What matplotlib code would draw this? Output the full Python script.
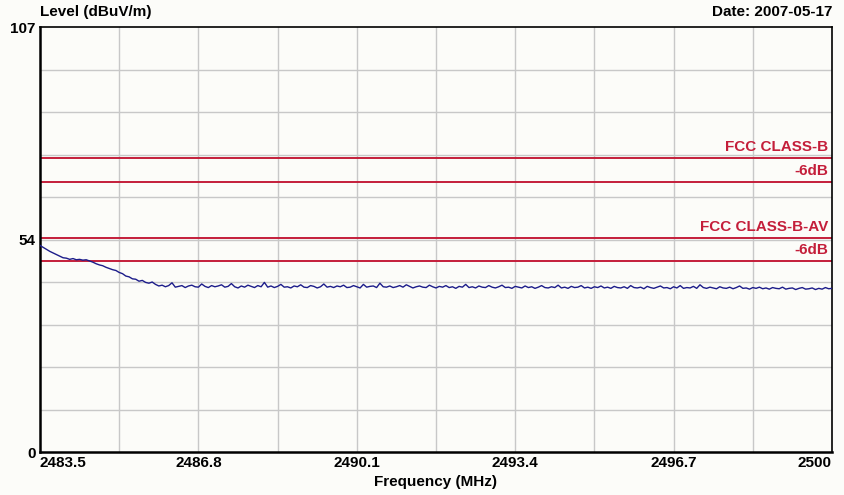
import numpy as np
import matplotlib
matplotlib.use("Agg")
from matplotlib import pyplot as plt

plt.rcParams['font.family'] = ['Liberation Sans', 'DejaVu Sans']
plt.rcParams['font.weight'] = 'bold'

level = [
    52.0, 51.5, 51.0, 50.5, 50.1, 49.7, 49.3, 48.9, 48.8, 48.5,
    48.7, 48.4, 48.5, 48.3, 48.4, 48.1, 47.8, 47.4, 47.1, 46.9,
    46.5, 46.2, 45.9, 45.7, 45.2, 44.9, 44.3, 44.1, 43.6, 43.5,
    43.0, 43.2, 42.7, 42.5, 42.8, 42.2,
    41.8, 42.0, 41.6, 41.9, 42.6, 41.5, 41.7, 41.9, 41.4, 41.8,
    42.0, 41.6, 41.5, 42.3, 41.7, 41.4, 41.9, 41.6, 41.8, 42.1,
    41.5, 41.7, 42.4, 41.6, 41.3, 41.8, 41.5, 42.0, 41.7, 41.4,
    41.9, 41.6, 42.7, 41.5, 41.8, 41.4, 41.7, 42.2, 41.5, 41.6,
    41.3, 41.8, 41.6, 42.1, 41.5, 41.4, 41.9, 41.7, 41.3, 41.6,
    42.3, 41.5, 41.7, 41.4, 41.8, 41.6, 42.0, 41.4, 41.5, 41.9,
    41.6, 41.3, 42.2, 41.5, 41.7, 41.8, 41.4, 42.5, 41.6, 41.5,
    41.8, 41.4, 41.6, 41.9, 41.5, 42.1, 41.7, 41.3, 41.6, 41.8,
    41.5, 41.4, 42.0, 41.6, 41.3, 41.7, 41.5, 41.9, 41.4, 41.6,
    41.2, 41.7, 41.5, 42.2, 41.4, 41.6, 41.3, 41.8, 41.5, 41.4,
    41.9, 41.5, 41.3, 41.6, 42.0, 41.4, 41.5, 41.2, 41.7, 41.5,
    41.3, 41.8, 41.4, 41.6, 41.2, 41.5, 41.9, 41.4, 41.3, 41.6,
    41.4, 42.0, 41.3, 41.5, 41.2, 41.7, 41.4, 41.5, 41.9, 41.3,
    41.5, 41.2, 41.6, 41.4, 41.8, 41.3, 41.5, 41.2, 41.7, 41.4,
    41.3, 41.6, 41.2, 41.9, 41.4, 41.3, 41.5, 41.1, 41.7, 41.4,
    41.2, 41.5, 41.8, 41.3, 41.4, 41.1, 41.6, 41.3, 41.9, 41.2,
    41.4, 41.3, 41.7, 41.2, 42.1, 41.4, 41.2, 41.5, 41.3, 41.1,
    41.6, 41.3, 41.2, 41.5, 41.1, 41.4, 41.8, 41.2, 41.3, 41.0,
    41.4, 41.2, 41.5, 41.1, 41.3, 41.0, 41.4, 41.2, 41.1, 41.5,
    41.0, 41.2, 41.3, 40.9, 41.2, 41.4, 41.0, 41.1, 41.3, 40.9,
    41.2, 41.0, 41.4, 41.1, 41.2,
]
freq = np.linspace(2483.5, 2500, len(level))

limits = [74, 68, 54, 48]
limit_names = ["FCC CLASS-B", "-6dB", "FCC CLASS-B-AV", "-6dB"]

xticks = [2483.5, 2486.8, 2490.1, 2493.4, 2496.7, 2500]
xlabels = ["2483.5", "2486.8", "2490.1", "2493.4", "2496.7", "2500"]

bg = "#fcfcf9"
red = "#c41e3a"
fs = 11

fig = plt.figure(figsize=(8.45, 4.95), dpi=100, facecolor=bg)
ax = fig.add_axes([40 / 845, 43 / 495, 792 / 845, 425 / 495], facecolor=bg)

ax.set_xlim(2483.5, 2500)
ax.set_ylim(0, 107)

# grid: 10 divisions both ways
for gx in np.linspace(2483.5, 2500, 11)[1:-1]:
    ax.axvline(gx, color="#c8c8c8", lw=1, zorder=1)
for gy in np.linspace(0, 107, 11)[1:-1]:
    ax.axhline(gy, color="#c8c8c8", lw=1, zorder=1)

for lim, name in zip(limits, limit_names):
    ax.axhline(lim, color=red, lw=1.4, zorder=2)
    ax.text(2499.92, lim + 1.0, name, color=red, ha="right", va="bottom",
            fontsize=fs, fontweight="bold", zorder=3)

ax.plot(freq, level, color="#1c1c8a", lw=1.0, zorder=4)

ax.set_xticks(xticks)
ax.set_xticklabels(xlabels, fontsize=fs, fontweight="bold")
tl = ax.get_xticklabels()
tl[0].set_ha("left")
tl[-1].set_ha("right")
ax.set_yticks([0, 53.5, 107])
ax.set_yticklabels(["0", "54", "107"], fontsize=fs, fontweight="bold")
ax.tick_params(length=0, pad=3)

for s in ax.spines.values():
    s.set_color("black")
    s.set_linewidth(1.2)
ax.spines["left"].set_linewidth(1.8)
ax.spines["bottom"].set_linewidth(1.8)

fig.text(40 / 845, 1 - 12 / 495, "Level (dBuV/m)", fontsize=fs, fontweight="bold",
         ha="left", va="center")
fig.text(832 / 845, 1 - 12 / 495, "Date: 2007-05-17", fontsize=fs, fontweight="bold",
         ha="right", va="center")
fig.text(436 / 845, 1 - 482 / 495, "Frequency (MHz)", fontsize=fs, fontweight="bold",
         ha="center", va="center")

fig.savefig("out.png", dpi=100, facecolor=bg)
